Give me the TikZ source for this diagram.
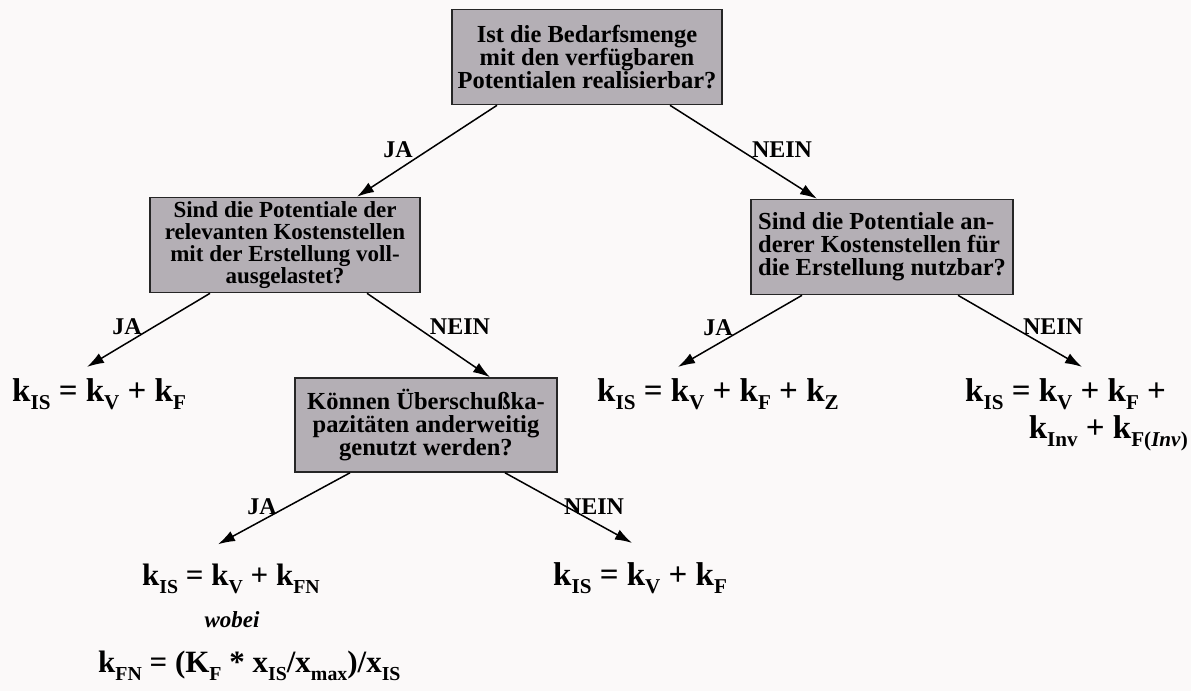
\documentclass[tikz,border=0pt]{standalone}
\usepackage{fontspec}
\setmainfont{Liberation Serif}
\usepackage{graphicx}
\usetikzlibrary{positioning, arrows.meta}
\definecolor{boxgray}{RGB}{180,175,181}
\definecolor{bgcol}{RGB}{251,249,249}
\newcommand{\ix}[1]{\raisebox{-0.26em}{\scalebox{0.64}{#1}}}
\tikzset{
  frage/.style={draw=black!85, line width=1.6pt, fill=boxgray, inner sep=2pt, minimum height=95pt, font=\fontsize{24.5}{23}\selectfont\bfseries},
  antw/.style={inner sep=0pt, font=\fontsize{24}{26}\selectfont\bfseries},
  formel/.style={anchor=base west, inner sep=0pt, font=\fontsize{33}{36}\selectfont\bfseries},
  pfeil/.style={-{Latex[length=17pt,width=11pt]}, line width=1.5pt},
}

\begin{document}
\begin{tikzpicture}[x=1pt, y=-1pt]
  \fill[bgcol] (0,0) rectangle (1191,691);
  \useasboundingbox (0,0) rectangle (1191,691);
  % Fragen
  \node[frage, align=center, minimum width=270pt] (q1) at (587,57) {Ist die Bedarfsmenge\\mit den verfügbaren\\Potentialen realisierbar?};
  \node[frage, align=center, minimum width=270pt, font=\fontsize{23}{22}\selectfont\bfseries] (q2) at (285,245) {Sind die Potentiale der\\relevanten Kostenstellen\\mit der Erstellung voll-\\ausgelastet?};
  \node[frage, align=left, minimum width=262pt] (q3) at (882,247) {Sind die Potentiale an-\\derer Kostenstellen für\\die Erstellung nutzbar?};
  \node[frage, align=center, minimum width=262pt, minimum height=94pt] (q4) at (426,425) {Können Überschußka-\\pazitäten anderweitig\\genutzt werden?};
  % Ergebnisse
  \node[formel] (f1) at (12,401) {k\ix{IS} = k\ix{V} + k\ix{F}};
  \node[formel] (f2) at (597,401) {k\ix{IS} = k\ix{V} + k\ix{F} + k\ix{Z}};
  \node[formel] (f3) at (965,401) {k\ix{IS} = k\ix{V} + k\ix{F} +};
  \node[formel, anchor=base east] (f3b) at (1188,438) {k\ix{Inv} + k\ix{F(\textit{Inv})}};
  \node[formel, font=\fontsize{31}{34}\selectfont\bfseries] (f4) at (142,585) {k\ix{IS} = k\ix{V} + k\ix{FN}};
  \node[inner sep=0pt, font=\fontsize{23}{26}\selectfont\bfseries\itshape] (wb) at (232,620) {wobei};
  \node[formel, font=\fontsize{31}{34}\selectfont\bfseries] (f5) at (98,672) {k\ix{FN} = (K\ix{F} * x\ix{IS}/x\ix{max})/x\ix{IS}};
  \node[formel] (f6) at (553,585) {k\ix{IS} = k\ix{V} + k\ix{F}};
  % Pfeile
  \draw[pfeil] ([xshift=-90pt]q1.south) -- ([xshift=72pt]q2.north);
  \draw[pfeil] ([xshift=83pt]q1.south) -- ([xshift=-65pt]q3.north);
  \draw[pfeil] ([xshift=-75pt]q2.south) -- ([xshift=75pt,yshift=11pt]f1.north west);
  \draw[pfeil] ([xshift=82pt]q2.south) -- ([xshift=64pt]q4.north);
  \draw[pfeil] ([xshift=-80pt]q3.south) -- ([xshift=81pt,yshift=11pt]f2.north west);
  \draw[pfeil] ([xshift=76pt]q3.south) -- ([xshift=117pt,yshift=11pt]f3.north west);
  \draw[pfeil] ([xshift=-76pt]q4.south) -- ([xshift=76pt,yshift=19pt]f4.north west);
  \draw[pfeil] ([xshift=79pt]q4.south) -- ([xshift=79pt,yshift=19pt]f6.north west);
  % Beschriftungen
  \node[antw] (j1) at (398,150) {JA};
  \node[antw] (n1) at (782,150) {NEIN};
  \node[antw] (j2) at (127,327) {JA};
  \node[antw] (n2) at (460,327) {NEIN};
  \node[antw] (j3) at (718,328) {JA};
  \node[antw] (n3) at (1053,327) {NEIN};
  \node[antw] (j4) at (262,507) {JA};
  \node[antw] (n4) at (594,507) {NEIN};
\end{tikzpicture}
\end{document}
